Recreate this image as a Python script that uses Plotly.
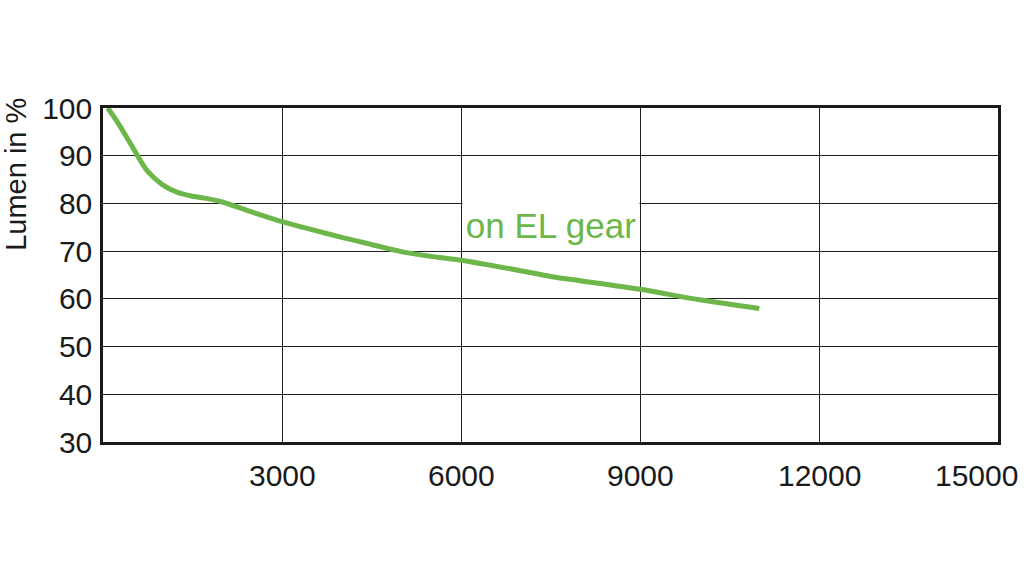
import plotly.graph_objects as go

# Data
hours = [80, 250, 500, 750, 1000, 1250, 1500, 1750, 2000, 2500, 3000, 3500, 4000,
         4500, 5000, 5500, 6000, 7000, 7500, 8000, 9000, 10000, 11000]
lumen = [100, 96.9, 91.7, 86.7, 83.9, 82.3, 81.5, 81.0, 80.3, 78.2, 76.2, 74.5, 72.9,
         71.4, 69.9, 68.9, 68.1, 65.9, 64.7, 63.8, 62.0, 59.8, 58.0]
series_name = "on EL gear"

x_ticks = [3000, 6000, 9000, 12000, 15000]
x_tick_labels = ["3000", "6000", "9000", "12000", "15000"]
y_ticks = [30, 40, 50, 60, 70, 80, 90, 100]
y_title = "Lumen in %"

GREEN = "rgb(108,182,74)"
FONT = "Liberation Sans, Arial, sans-serif"

fig = go.Figure()
fig.add_trace(go.Scatter(
    x=hours, y=lumen, mode="lines", name=series_name,
    line=dict(color=GREEN, width=5, shape="spline", smoothing=0.9),
    showlegend=False, hoverinfo="skip"))

annotations = []
for v, t in zip(x_ticks, x_tick_labels):
    last = (v == x_ticks[-1])
    annotations.append(dict(
        x=v, xref="x", y=0, yref="paper", text=t, showarrow=False,
        xanchor="right" if last else "center", xshift=22 if last else 0,
        yanchor="top", yshift=-15,
        font=dict(family=FONT, size=30, color="#1a1a1a")))

annotations.append(dict(
    x=0, xref="paper", xshift=-87, y=0.80, yref="paper", text=y_title,
    showarrow=False, textangle=-90, xanchor="center", yanchor="middle",
    font=dict(family=FONT, size=29, color="#1a1a1a")))

annotations.append(dict(
    x=7500, xref="x", y=75.3, yref="y", text=series_name, showarrow=False,
    xanchor="center", yanchor="middle", bgcolor="white", width=176, height=45,
    borderpad=0, font=dict(family=FONT, size=35, color=GREEN)))

fig.update_layout(
    width=1024, height=580,
    margin=dict(l=103, r=26, t=108, b=138, autoexpand=False),
    paper_bgcolor="white", plot_bgcolor="white",
    annotations=annotations,
    xaxis=dict(range=[0, 15000], tickvals=x_ticks, showticklabels=False,
               showgrid=True, gridcolor="#1e1e1e", gridwidth=1.4,
               showline=True, linecolor="#1a1a1a", linewidth=2.5, mirror=True,
               zeroline=False, ticks=""),
    yaxis=dict(range=[30, 100], tickvals=y_ticks, showgrid=True,
               gridcolor="#1e1e1e", gridwidth=1.4,
               showline=True, linecolor="#1a1a1a", linewidth=2.5, mirror=True,
               zeroline=False, ticks="outside", ticklen=2,
               tickcolor="rgba(0,0,0,0)",
               tickfont=dict(family=FONT, size=30, color="#1a1a1a")),
)

fig.write_html("out.html", config={"displayModeBar": False},
               post_script="document.body.style.margin='0';document.body.style.overflow='hidden';")
